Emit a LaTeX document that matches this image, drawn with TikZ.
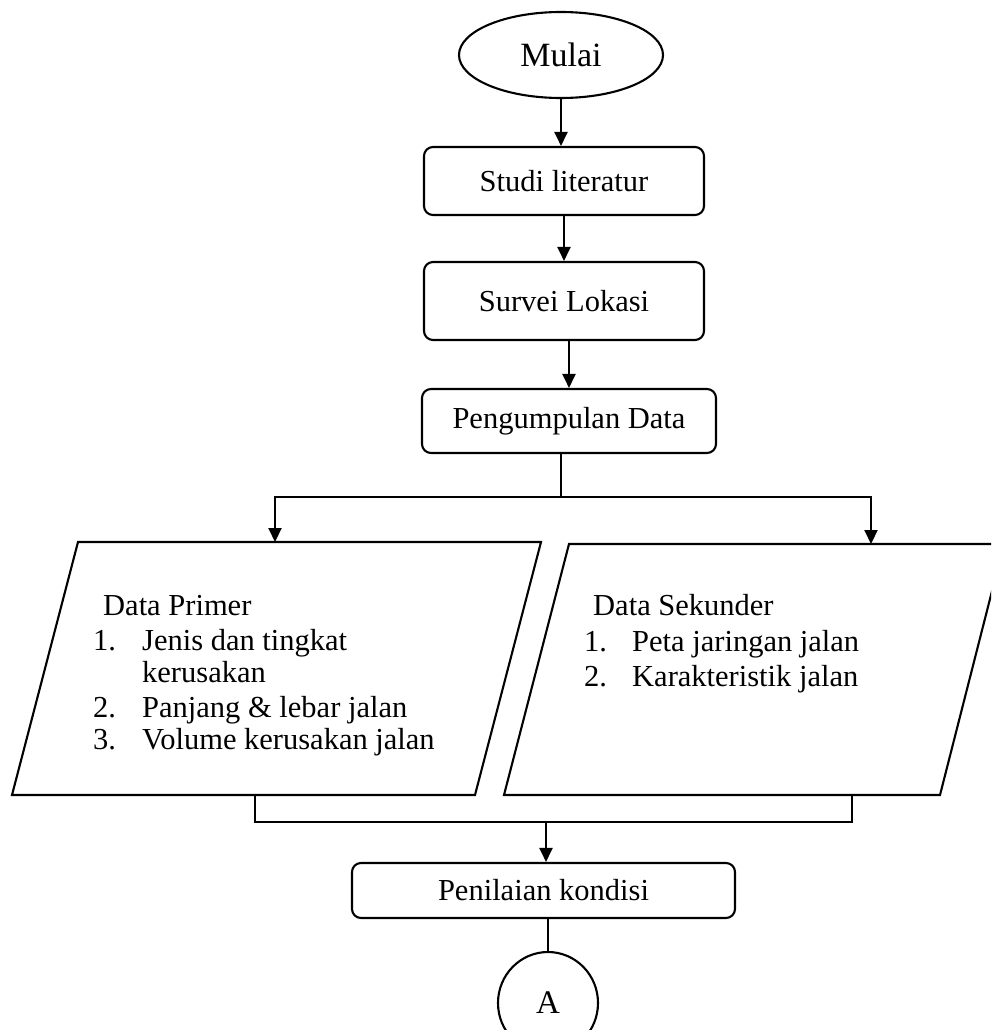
\documentclass[tikz,border=0pt]{standalone}
\usepackage{fontspec}
\setmainfont{Liberation Serif}
\usetikzlibrary{arrows.meta,shapes.geometric}
\tikzset{
  ln/.style={line width=2.1pt, line cap=rect},
  arr/.style={ln, -{Triangle[length=14pt,width=13pt]}},
  procbox/.style={draw, line width=2.1pt, rounded corners=9pt, rectangle, inner sep=0pt, font=\fontsize{30.5}{36}\selectfont},
  termbox/.style={draw, line width=2.1pt, ellipse, inner sep=0pt, font=\fontsize{34}{40}\selectfont},
  txt/.style={anchor=base west, inner sep=0pt, font=\fontsize{30.5}{36}\selectfont},
}
\begin{document}
\begin{tikzpicture}[x=1pt,y=-1pt]
\clip (0,0) rectangle (991,1030);
\useasboundingbox (0,0) rectangle (991,1030);

\node[termbox, minimum width=204pt, minimum height=86pt] (mulai) at (561,55) {Mulai};
\node[procbox, minimum width=280pt, minimum height=68pt] (studi) at (564,181) {Studi literatur};
\node[procbox, minimum width=280pt, minimum height=78pt] (survei) at (564,301) {Survei Lokasi};
\node[procbox, minimum width=294pt, minimum height=64pt] (peng) at (569,421) {Pengumpulan Data};
\node[procbox, minimum width=383pt, minimum height=55pt] (nilai) at (543.5,890.5) {Penilaian kondisi};
\node[termbox, minimum width=100pt, minimum height=102pt, font=\fontsize{33}{40}\selectfont] (A) at (548,1003) {A};

% parallelograms
\draw[ln, line join=miter] (78,542) -- (541,542) -- (475,795) -- (12,795) -- cycle;
\draw[ln, line join=miter] (569,544) -- (1004,544) -- (940,795) -- (504,795) -- cycle;

\coordinate (p1in) at (275,542);
\coordinate (p2in) at (871,544);
\coordinate (p1out) at (255,795);
\coordinate (p2out) at (852,795);
\coordinate (splitL) at (275,497);
\coordinate (splitR) at (871,497);
\coordinate (mergeL) at (255,822);
\coordinate (mergeR) at (852,822);
\coordinate (mergeM) at (546,822);

% texts left
\node[txt] (dp) at (103,615) {Data Primer};
\node[txt] (n1) at (93,650) {1.};
\node[txt] (t1) at (142,650) {Jenis dan tingkat};
\node[txt] (t1b) at (142,682) {kerusakan};
\node[txt] (n2) at (93,717) {2.};
\node[txt] (t2) at (142,717) {Panjang \& lebar jalan};
\node[txt] (n3) at (93,749) {3.};
\node[txt] (t3) at (142,749) {Volume kerusakan jalan};

% texts right
\node[txt] (ds) at (593,615) {Data Sekunder};
\node[txt] (m1) at (584,651) {1.};
\node[txt] (s1) at (632,651) {Peta jaringan jalan};
\node[txt] (m2) at (584,686) {2.};
\node[txt] (s2) at (632,686) {Karakteristik jalan};

% connectors
\draw[arr] (mulai.south) -- (mulai.south |- studi.north);
\draw[arr] (studi.south) -- (survei.north);
\draw[arr] (peng.south |- survei.south) -- (peng.north);
\draw[ln] (peng.south -| 561,0) -- (561,497);
\draw[ln] (splitL) -- (splitR);
\draw[arr] (splitL) -- (p1in);
\draw[arr] (splitR) -- (p2in);
\draw[ln] (p1out) -- (mergeL) -- (mergeR) -- (p2out);
\draw[arr] (mergeM) -- (mergeM |- nilai.north);
\draw[ln] (A.north |- nilai.south) -- (A.north);
\end{tikzpicture}
\end{document}
